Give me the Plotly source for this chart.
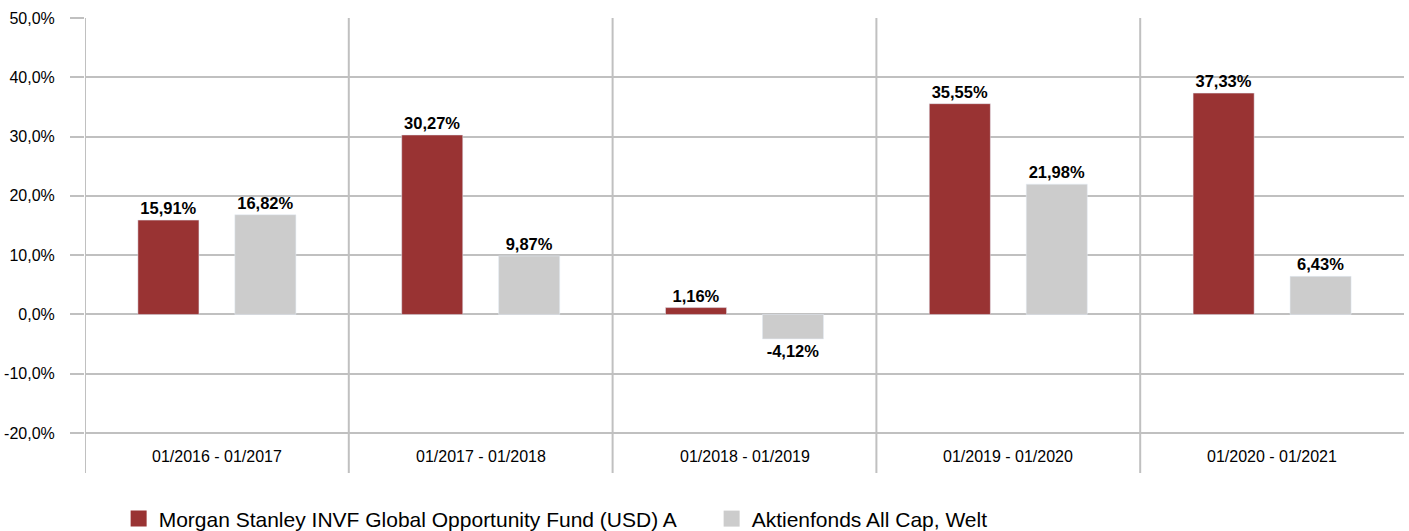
import plotly.graph_objects as go

categories = ["01/2016 - 01/2017", "01/2017 - 01/2018", "01/2018 - 01/2019",
              "01/2019 - 01/2020", "01/2020 - 01/2021"]
fund_name = "Morgan Stanley INVF Global Opportunity Fund (USD) A"
peer_name = "Aktienfonds All Cap, Welt"
fund_values = [15.91, 30.27, 1.16, 35.55, 37.33]
peer_values = [16.82, 9.87, -4.12, 21.98, 6.43]
y_ticks = [-20, -10, 0, 10, 20, 30, 40, 50]
y_tick_labels = [f"{v:.1f}%".replace(".", ",") for v in y_ticks]

RED = "#993333"
GREY = "#cccccc"
GRID = "#c0c0c0"
FONT = "Liberation Sans, Arial, sans-serif"

x_idx = list(range(len(categories)))

fig = go.Figure()
fig.add_trace(go.Bar(x=x_idx, y=fund_values, marker_color=RED, showlegend=False,
                     texttemplate="<b>%{y:.2f}%</b>", textposition="outside",
                     textfont=dict(family=FONT, size=16.5, color="black"), cliponaxis=False))
fig.add_trace(go.Bar(x=x_idx, y=peer_values, marker_color=GREY, showlegend=False,
                     texttemplate="<b>%{y:.2f}%</b>", textposition="outside",
                     textfont=dict(family=FONT, size=16.5, color="black"), cliponaxis=False))
# legend entries
for name, col in [(fund_name, RED), (peer_name, GREY)]:
    fig.add_trace(go.Scatter(x=[None], y=[None], mode="markers", name=name,
                             marker=dict(symbol="square", size=17, color=col)))

# vertical separators between categories
for i in x_idx:
    fig.add_shape(type="line", xref="x", yref="paper", x0=i - 0.5, x1=i - 0.5,
                  y0=0, y1=1, line=dict(color=GRID, width=2), layer="below")

# category labels inside plot area
for i, c in zip(x_idx, categories):
    fig.add_annotation(x=i, y=-24, xref="x", yref="y", text=c, showarrow=False,
                       font=dict(family=FONT, size=16, color="black"))

fig.update_layout(
    width=1409, height=531,
    margin=dict(l=85, r=5, t=18, b=58, autoexpand=False),
    plot_bgcolor="white", paper_bgcolor="white",
    barmode="group", bargap=0.265, bargroupgap=0.37,
    separators=",.",
    font=dict(family=FONT, size=15, color="black"),
    xaxis=dict(range=[-0.5, 4.5], showticklabels=False, showgrid=False,
               zeroline=False, showline=False),
    yaxis=dict(range=[-26.74, 50], tickmode="array", tickvals=y_ticks, ticktext=y_tick_labels,
               showgrid=True, gridcolor=GRID, gridwidth=2,
               zeroline=True, zerolinecolor=GRID, zerolinewidth=2,
               ticks="outside", ticklen=14, tickcolor=GRID, tickwidth=2,
               ticklabelstandoff=12, automargin=False,
               tickfont=dict(family=FONT, size=16, color="black")),
    legend=dict(orientation="h", x=0.0255, xanchor="left", y=-0.101, yanchor="middle",
                font=dict(family=FONT, size=21, color="black"),
                entrywidth=548, itemwidth=30, bgcolor="rgba(0,0,0,0)"),
)

fig.write_html("out.html", config={"displayModeBar": False},
               post_script="document.body.style.margin='0';document.body.style.overflow='hidden';")
